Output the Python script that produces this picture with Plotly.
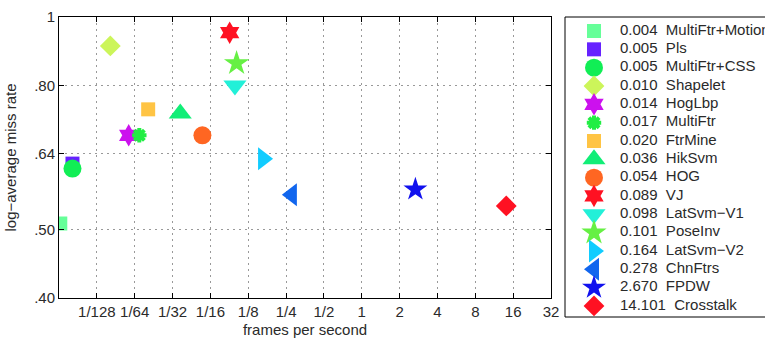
import plotly.graph_objects as go

# ---- data ----
names = ["MultiFtr+Motion", "Pls", "MultiFtr+CSS", "Shapelet", "HogLbp", "MultiFtr",
         "FtrMine", "HikSvm", "HOG", "VJ", "LatSvm\u2212V1", "PoseInv", "LatSvm\u2212V2",
         "ChnFtrs", "FPDW", "Crosstalk"]
fps = [0.004, 0.005, 0.005, 0.010, 0.014, 0.017, 0.020, 0.036, 0.054, 0.089, 0.098,
       0.101, 0.164, 0.278, 2.670, 14.101]
miss = [0.51, 0.62, 0.61, 0.91, 0.68, 0.68, 0.74, 0.73, 0.68, 0.95, 0.80, 0.86, 0.63,
        0.56, 0.57, 0.54]
x_tickvals = [1/128, 1/64, 1/32, 1/16, 1/8, 1/4, 1/2, 1, 2, 4, 8, 16, 32]
x_ticktext = ["1/128", "1/64", "1/32", "1/16", "1/8", "1/4", "1/2", "1", "2", "4", "8", "16", "32"]
y_tickvals = [0.40, 0.50, 0.64, 0.80, 1.0]
y_ticktext = [".40", ".50", ".64", ".80", "1"]

# ---- styles ----
symbols = ["square", "square", "circle", "diamond", "hexagram", "asterisk-open", "square",
           "triangle-up", "circle", "hexagram", "triangle-down", "star", "triangle-right",
           "triangle-left", "star", "diamond"]
sizes = [14, 14, 18, 16, 17, 12, 14, 20, 18, 17, 20, 19, 20, 20, 18, 16]
colors = ["#66ff99", "#6622ff", "#11ee55", "#ccf55a", "#cc11ee", "#22ee44", "#ffc444",
          "#11ee77", "#ff6622", "#ff1122", "#22f0d8", "#66f044", "#11ccff", "#1166ee",
          "#1111ee", "#ff1122"]

FONT = "Liberation Sans, Arial, Helvetica, sans-serif"
W, H = 765, 342

fig = go.Figure()

def marker_for(i):
    if symbols[i] == "asterisk-open":
        return dict(symbol=symbols[i], size=sizes[i], color=colors[i],
                    line=dict(width=4, color=colors[i]))
    return dict(symbol=symbols[i], size=sizes[i], color=colors[i], line=dict(width=0))

# main plot
for i in range(len(names)):
    fig.add_trace(go.Scatter(x=[fps[i]], y=[miss[i]], mode="markers",
                             marker=marker_for(i), showlegend=False,
                             xaxis="x", yaxis="y", hoverinfo="skip"))

# legend (drawn as a small subplot)
rows = list(range(len(names)))
for i in rows:
    fig.add_trace(go.Scatter(x=[29], y=[i], mode="markers", marker=marker_for(i),
                             showlegend=False, xaxis="x2", yaxis="y2", hoverinfo="skip"))
fig.add_trace(go.Scatter(
    x=[55] * len(names), y=rows, mode="text",
    text=[f"{f:.3f}\u00a0\u00a0{n}" for f, n in zip(fps, names)],
    textposition="middle right",
    textfont=dict(family=FONT, size=15, color="#2a2a2a"),
    showlegend=False, xaxis="x2", yaxis="y2", hoverinfo="skip"))

axis_common = dict(showline=True, linecolor="black", linewidth=1, mirror="ticks",
                   ticks="inside", ticklen=5, tickcolor="black",
                   showgrid=True, gridcolor="#999999", griddash="2px,4px", gridwidth=1,
                   zeroline=False, automargin=False,
                   tickfont=dict(family=FONT, size=15, color="#2a2a2a"))

fig.update_layout(
    width=W, height=H,
    margin=dict(l=0, r=0, t=0, b=0),
    paper_bgcolor="white", plot_bgcolor="white",
    xaxis=dict(type="log", domain=[59 / W, 551 / W], range=[-2.40824, 1.50515],
               tickvals=x_tickvals, ticktext=x_ticktext,
               title=dict(text="frames per second", standoff=5,
                          font=dict(family=FONT, size=15, color="#2a2a2a")),
               anchor="y", **axis_common),
    yaxis=dict(type="log", domain=[1 - 298 / H, 1 - 17 / H], range=[-0.39794, 0],
               tickvals=y_tickvals, ticktext=y_ticktext,
               title=dict(text="log\u2212average miss rate", standoff=13,
                          font=dict(family=FONT, size=15, color="#2a2a2a")),
               anchor="x", **axis_common),
    xaxis2=dict(domain=[565 / W, 1], range=[0, 200], visible=False, anchor="y2"),
    yaxis2=dict(domain=[0, 1], range=[(H - 31) / 18.33, -31 / 18.33], visible=False,
                anchor="x2"),
    shapes=[dict(type="rect", xref="paper", yref="paper", x0=565 / W, x1=1.2,
                 y0=1 - 317 / H, y1=1 - 17 / H, line=dict(color="black", width=1),
                 fillcolor="rgba(0,0,0,0)", layer="above")],
)

fig.write_html("out.html")
